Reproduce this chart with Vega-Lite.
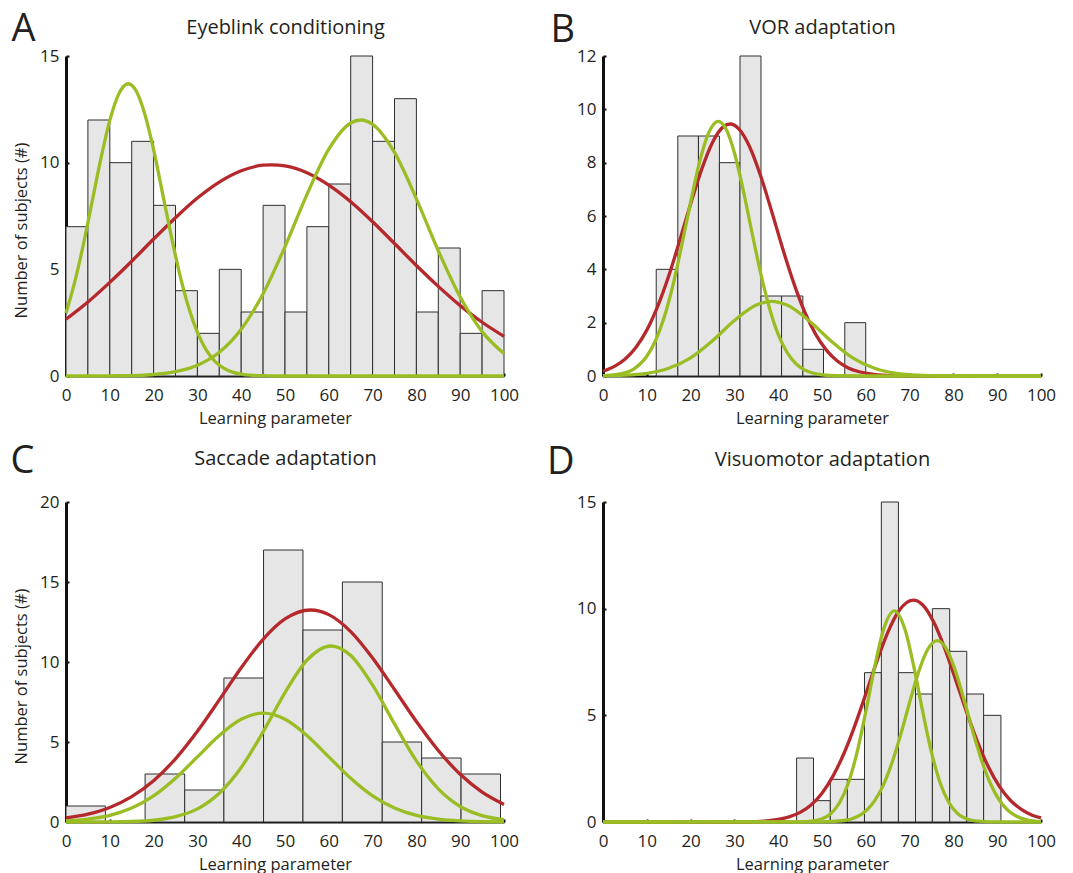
{
  "$schema": "https://vega.github.io/schema/vega-lite/v6.json",
  "background": "white",
  "padding": {"left": 10, "top": 10, "right": 5, "bottom": 5},
  "columns": 2,
  "spacing": {"row": 126, "column": 99},
  "bounds": "flush",
  "datasets": {
    "hA": [
      {"x0": 0, "x1": 5, "n": 7}, {"x0": 5, "x1": 10, "n": 12}, {"x0": 10, "x1": 15, "n": 10}, {"x0": 15, "x1": 20, "n": 11},
      {"x0": 20, "x1": 25, "n": 8}, {"x0": 25, "x1": 30, "n": 4}, {"x0": 30, "x1": 35, "n": 2}, {"x0": 35, "x1": 40, "n": 5},
      {"x0": 40, "x1": 45, "n": 3}, {"x0": 45, "x1": 50, "n": 8}, {"x0": 50, "x1": 55, "n": 3}, {"x0": 55, "x1": 60, "n": 7},
      {"x0": 60, "x1": 65, "n": 9}, {"x0": 65, "x1": 70, "n": 15}, {"x0": 70, "x1": 75, "n": 11}, {"x0": 75, "x1": 80, "n": 13},
      {"x0": 80, "x1": 85, "n": 3}, {"x0": 85, "x1": 90, "n": 6}, {"x0": 90, "x1": 95, "n": 2}, {"x0": 95, "x1": 100, "n": 4}
    ],
    "hB": [
      {"x0": 12.15, "x1": 17.08, "n": 4}, {"x0": 17.08, "x1": 21.79, "n": 9}, {"x0": 21.79, "x1": 26.58, "n": 9},
      {"x0": 26.58, "x1": 31.28, "n": 8}, {"x0": 31.28, "x1": 36.07, "n": 12}, {"x0": 36.07, "x1": 40.77, "n": 3},
      {"x0": 40.77, "x1": 45.63, "n": 3}, {"x0": 45.63, "x1": 50.34, "n": 1}, {"x0": 55.2, "x1": 59.98, "n": 2}
    ],
    "hC": [
      {"x0": 0, "x1": 9.0, "n": 1}, {"x0": 18.06, "x1": 27.1, "n": 3}, {"x0": 27.1, "x1": 36.05, "n": 2},
      {"x0": 36.05, "x1": 45.1, "n": 9}, {"x0": 45.1, "x1": 54.1, "n": 17}, {"x0": 54.1, "x1": 63.1, "n": 12},
      {"x0": 63.1, "x1": 72.2, "n": 15}, {"x0": 72.2, "x1": 81.2, "n": 5}, {"x0": 81.2, "x1": 90.2, "n": 4},
      {"x0": 90.2, "x1": 99.2, "n": 3}
    ],
    "hD": [
      {"x0": 44.2, "x1": 48.06, "n": 3}, {"x0": 48.06, "x1": 51.9, "n": 1}, {"x0": 51.9, "x1": 55.8, "n": 2},
      {"x0": 55.8, "x1": 59.7, "n": 2}, {"x0": 59.7, "x1": 63.55, "n": 7}, {"x0": 63.55, "x1": 67.45, "n": 15},
      {"x0": 67.45, "x1": 71.35, "n": 7}, {"x0": 71.35, "x1": 75.2, "n": 6}, {"x0": 75.2, "x1": 79.15, "n": 10},
      {"x0": 79.15, "x1": 83.05, "n": 8}, {"x0": 83.05, "x1": 86.9, "n": 6}, {"x0": 86.9, "x1": 90.85, "n": 5}
    ],
    "cA": [
      {"c": "r", "x": 0, "y": 2.66}, {"c": "r", "x": 5, "y": 3.47}, {"c": "r", "x": 10, "y": 4.39}, {"c": "r", "x": 15, "y": 5.38},
      {"c": "r", "x": 20, "y": 6.42}, {"c": "r", "x": 25, "y": 7.42}, {"c": "r", "x": 30, "y": 8.34}, {"c": "r", "x": 35, "y": 9.09},
      {"c": "r", "x": 40, "y": 9.62}, {"c": "r", "x": 45, "y": 9.88}, {"c": "r", "x": 47, "y": 9.9}, {"c": "r", "x": 50, "y": 9.85},
      {"c": "r", "x": 55, "y": 9.53}, {"c": "r", "x": 60, "y": 8.95}, {"c": "r", "x": 65, "y": 8.17}, {"c": "r", "x": 70, "y": 7.23},
      {"c": "r", "x": 75, "y": 6.21}, {"c": "r", "x": 80, "y": 5.18}, {"c": "r", "x": 85, "y": 4.2}, {"c": "r", "x": 90, "y": 3.3},
      {"c": "r", "x": 95, "y": 2.52}, {"c": "r", "x": 100, "y": 1.86},
      {"c": "g1", "x": 0, "y": 2.95}, {"c": "g1", "x": 2, "y": 4.41}, {"c": "g1", "x": 4, "y": 6.2}, {"c": "g1", "x": 6, "y": 8.21},
      {"c": "g1", "x": 8, "y": 10.22}, {"c": "g1", "x": 10, "y": 11.98}, {"c": "g1", "x": 12, "y": 13.2}, {"c": "g1", "x": 14.2, "y": 13.7},
      {"c": "g1", "x": 16, "y": 13.37}, {"c": "g1", "x": 18, "y": 12.27}, {"c": "g1", "x": 20, "y": 10.61}, {"c": "g1", "x": 22, "y": 8.61},
      {"c": "g1", "x": 24, "y": 6.59}, {"c": "g1", "x": 26, "y": 4.74}, {"c": "g1", "x": 28, "y": 3.21}, {"c": "g1", "x": 30, "y": 2.04},
      {"c": "g1", "x": 32, "y": 1.22}, {"c": "g1", "x": 34, "y": 0.69}, {"c": "g1", "x": 36, "y": 0.37}, {"c": "g1", "x": 38, "y": 0.18},
      {"c": "g1", "x": 40, "y": 0.09}, {"c": "g1", "x": 42, "y": 0.04}, {"c": "g1", "x": 46, "y": 0.01}, {"c": "g1", "x": 50, "y": 0},
      {"c": "g1", "x": 100, "y": 0},
      {"c": "g2", "x": 0, "y": 0}, {"c": "g2", "x": 10, "y": 0.01}, {"c": "g2", "x": 15, "y": 0.02}, {"c": "g2", "x": 20, "y": 0.07},
      {"c": "g2", "x": 25, "y": 0.2}, {"c": "g2", "x": 30, "y": 0.5}, {"c": "g2", "x": 35, "y": 1.11}, {"c": "g2", "x": 40, "y": 2.19},
      {"c": "g2", "x": 45, "y": 3.86}, {"c": "g2", "x": 50, "y": 6.06}, {"c": "g2", "x": 55, "y": 8.5}, {"c": "g2", "x": 60, "y": 10.63},
      {"c": "g2", "x": 65, "y": 11.86}, {"c": "g2", "x": 67.3, "y": 12}, {"c": "g2", "x": 70, "y": 11.8}, {"c": "g2", "x": 75, "y": 10.48},
      {"c": "g2", "x": 80, "y": 8.3}, {"c": "g2", "x": 85, "y": 5.87}, {"c": "g2", "x": 90, "y": 3.7}, {"c": "g2", "x": 95, "y": 2.08},
      {"c": "g2", "x": 100, "y": 1.05}
    ],
    "cB": [
      {"c": "r", "x": 0, "y": 0.18}, {"c": "r", "x": 2.5, "y": 0.35}, {"c": "r", "x": 5, "y": 0.63}, {"c": "r", "x": 7.5, "y": 1.07},
      {"c": "r", "x": 10, "y": 1.72}, {"c": "r", "x": 12.5, "y": 2.62}, {"c": "r", "x": 15, "y": 3.75}, {"c": "r", "x": 17.5, "y": 5.07},
      {"c": "r", "x": 20, "y": 6.45}, {"c": "r", "x": 22.5, "y": 7.74}, {"c": "r", "x": 25, "y": 8.76}, {"c": "r", "x": 27.5, "y": 9.35},
      {"c": "r", "x": 29, "y": 9.45}, {"c": "r", "x": 31, "y": 9.27}, {"c": "r", "x": 33.5, "y": 8.59}, {"c": "r", "x": 36, "y": 7.5},
      {"c": "r", "x": 38.5, "y": 6.18}, {"c": "r", "x": 41, "y": 4.79}, {"c": "r", "x": 43.5, "y": 3.51}, {"c": "r", "x": 46, "y": 2.42},
      {"c": "r", "x": 48.5, "y": 1.58}, {"c": "r", "x": 51, "y": 0.97}, {"c": "r", "x": 53.5, "y": 0.56}, {"c": "r", "x": 56, "y": 0.3},
      {"c": "r", "x": 58.5, "y": 0.16}, {"c": "r", "x": 61, "y": 0.08}, {"c": "r", "x": 65, "y": 0.02}, {"c": "r", "x": 70, "y": 0},
      {"c": "r", "x": 100, "y": 0},
      {"c": "g1", "x": 0, "y": 0.01}, {"c": "g1", "x": 4, "y": 0.08}, {"c": "g1", "x": 7, "y": 0.26}, {"c": "g1", "x": 10, "y": 0.74},
      {"c": "g1", "x": 12, "y": 1.33}, {"c": "g1", "x": 14, "y": 2.22}, {"c": "g1", "x": 16, "y": 3.43}, {"c": "g1", "x": 18, "y": 4.92},
      {"c": "g1", "x": 20, "y": 6.51}, {"c": "g1", "x": 22, "y": 7.99}, {"c": "g1", "x": 24, "y": 9.07}, {"c": "g1", "x": 26.3, "y": 9.55},
      {"c": "g1", "x": 28, "y": 9.29}, {"c": "g1", "x": 30, "y": 8.37}, {"c": "g1", "x": 32, "y": 6.98}, {"c": "g1", "x": 34, "y": 5.39},
      {"c": "g1", "x": 36, "y": 3.86}, {"c": "g1", "x": 38, "y": 2.55}, {"c": "g1", "x": 40, "y": 1.56}, {"c": "g1", "x": 42, "y": 0.89},
      {"c": "g1", "x": 44, "y": 0.47}, {"c": "g1", "x": 46, "y": 0.23}, {"c": "g1", "x": 49, "y": 0.07}, {"c": "g1", "x": 53, "y": 0.01},
      {"c": "g1", "x": 60, "y": 0}, {"c": "g1", "x": 100, "y": 0},
      {"c": "g2", "x": 0, "y": 0.01}, {"c": "g2", "x": 5, "y": 0.03}, {"c": "g2", "x": 10, "y": 0.1}, {"c": "g2", "x": 15, "y": 0.29},
      {"c": "g2", "x": 20, "y": 0.68}, {"c": "g2", "x": 25, "y": 1.32}, {"c": "g2", "x": 30, "y": 2.08}, {"c": "g2", "x": 35, "y": 2.66},
      {"c": "g2", "x": 38.5, "y": 2.8}, {"c": "g2", "x": 42, "y": 2.66}, {"c": "g2", "x": 47, "y": 2.08}, {"c": "g2", "x": 52, "y": 1.32},
      {"c": "g2", "x": 57, "y": 0.68}, {"c": "g2", "x": 62, "y": 0.29}, {"c": "g2", "x": 67, "y": 0.1}, {"c": "g2", "x": 72, "y": 0.03},
      {"c": "g2", "x": 77, "y": 0.01}, {"c": "g2", "x": 85, "y": 0}, {"c": "g2", "x": 100, "y": 0}
    ],
    "cC": [
      {"c": "r", "x": 0, "y": 0.25}, {"c": "r", "x": 5, "y": 0.49}, {"c": "r", "x": 10, "y": 0.91}, {"c": "r", "x": 15, "y": 1.59},
      {"c": "r", "x": 20, "y": 2.58}, {"c": "r", "x": 25, "y": 3.95}, {"c": "r", "x": 30, "y": 5.67}, {"c": "r", "x": 35, "y": 7.63},
      {"c": "r", "x": 40, "y": 9.64}, {"c": "r", "x": 45, "y": 11.42}, {"c": "r", "x": 50, "y": 12.69}, {"c": "r", "x": 55.8, "y": 13.25},
      {"c": "r", "x": 60, "y": 12.96}, {"c": "r", "x": 65, "y": 11.9}, {"c": "r", "x": 70, "y": 10.25}, {"c": "r", "x": 75, "y": 8.28},
      {"c": "r", "x": 80, "y": 6.28}, {"c": "r", "x": 85, "y": 4.47}, {"c": "r", "x": 90, "y": 2.98}, {"c": "r", "x": 95, "y": 1.87},
      {"c": "r", "x": 100, "y": 1.1},
      {"c": "g1", "x": 0, "y": 0.07}, {"c": "g1", "x": 5, "y": 0.18}, {"c": "g1", "x": 10, "y": 0.41}, {"c": "g1", "x": 15, "y": 0.87},
      {"c": "g1", "x": 20, "y": 1.63}, {"c": "g1", "x": 25, "y": 2.73}, {"c": "g1", "x": 30, "y": 4.07}, {"c": "g1", "x": 35, "y": 5.41},
      {"c": "g1", "x": 40, "y": 6.42}, {"c": "g1", "x": 45, "y": 6.8}, {"c": "g1", "x": 50, "y": 6.42}, {"c": "g1", "x": 55, "y": 5.41},
      {"c": "g1", "x": 60, "y": 4.07}, {"c": "g1", "x": 65, "y": 2.73}, {"c": "g1", "x": 70, "y": 1.63}, {"c": "g1", "x": 75, "y": 0.87},
      {"c": "g1", "x": 80, "y": 0.41}, {"c": "g1", "x": 85, "y": 0.18}, {"c": "g1", "x": 90, "y": 0.07}, {"c": "g1", "x": 95, "y": 0.02},
      {"c": "g1", "x": 100, "y": 0.01},
      {"c": "g2", "x": 0, "y": 0}, {"c": "g2", "x": 10, "y": 0.01}, {"c": "g2", "x": 15, "y": 0.03}, {"c": "g2", "x": 20, "y": 0.11},
      {"c": "g2", "x": 25, "y": 0.33}, {"c": "g2", "x": 30, "y": 0.82}, {"c": "g2", "x": 35, "y": 1.8}, {"c": "g2", "x": 40, "y": 3.41},
      {"c": "g2", "x": 45, "y": 5.63}, {"c": "g2", "x": 50, "y": 8.09}, {"c": "g2", "x": 55, "y": 10.11}, {"c": "g2", "x": 60.5, "y": 11},
      {"c": "g2", "x": 65, "y": 10.4}, {"c": "g2", "x": 70, "y": 8.55}, {"c": "g2", "x": 75, "y": 6.13}, {"c": "g2", "x": 80, "y": 3.82},
      {"c": "g2", "x": 85, "y": 2.07}, {"c": "g2", "x": 90, "y": 0.97}, {"c": "g2", "x": 95, "y": 0.4}, {"c": "g2", "x": 100, "y": 0.14}
    ],
    "cD": [
      {"c": "r", "x": 0, "y": 0}, {"c": "r", "x": 30, "y": 0}, {"c": "r", "x": 35, "y": 0.02}, {"c": "r", "x": 40, "y": 0.12},
      {"c": "r", "x": 42.5, "y": 0.24}, {"c": "r", "x": 45, "y": 0.45}, {"c": "r", "x": 47.5, "y": 0.8}, {"c": "r", "x": 50, "y": 1.35},
      {"c": "r", "x": 52.5, "y": 2.15}, {"c": "r", "x": 55, "y": 3.21}, {"c": "r", "x": 57.5, "y": 4.52}, {"c": "r", "x": 60, "y": 6.0},
      {"c": "r", "x": 62.5, "y": 7.52}, {"c": "r", "x": 65, "y": 8.88}, {"c": "r", "x": 67.5, "y": 9.88}, {"c": "r", "x": 70.8, "y": 10.4},
      {"c": "r", "x": 73, "y": 10.17}, {"c": "r", "x": 75.5, "y": 9.37}, {"c": "r", "x": 78, "y": 8.15}, {"c": "r", "x": 80.5, "y": 6.67},
      {"c": "r", "x": 83, "y": 5.16}, {"c": "r", "x": 85.5, "y": 3.76}, {"c": "r", "x": 88, "y": 2.58}, {"c": "r", "x": 90.5, "y": 1.67},
      {"c": "r", "x": 93, "y": 1.02}, {"c": "r", "x": 95.5, "y": 0.59}, {"c": "r", "x": 98, "y": 0.32}, {"c": "r", "x": 100, "y": 0.19},
      {"c": "g1", "x": 0, "y": 0}, {"c": "g1", "x": 45, "y": 0.01}, {"c": "g1", "x": 48, "y": 0.05}, {"c": "g1", "x": 50, "y": 0.15},
      {"c": "g1", "x": 52, "y": 0.39}, {"c": "g1", "x": 54, "y": 0.9}, {"c": "g1", "x": 56, "y": 1.82}, {"c": "g1", "x": 58, "y": 3.26},
      {"c": "g1", "x": 60, "y": 5.17}, {"c": "g1", "x": 62, "y": 7.25}, {"c": "g1", "x": 64, "y": 8.99}, {"c": "g1", "x": 66.5, "y": 9.9},
      {"c": "g1", "x": 69, "y": 8.99}, {"c": "g1", "x": 71, "y": 7.25}, {"c": "g1", "x": 73, "y": 5.17}, {"c": "g1", "x": 75, "y": 3.26},
      {"c": "g1", "x": 77, "y": 1.82}, {"c": "g1", "x": 79, "y": 0.9}, {"c": "g1", "x": 81, "y": 0.39}, {"c": "g1", "x": 83, "y": 0.15},
      {"c": "g1", "x": 85, "y": 0.05}, {"c": "g1", "x": 88, "y": 0.01}, {"c": "g1", "x": 100, "y": 0},
      {"c": "g2", "x": 0, "y": 0}, {"c": "g2", "x": 50, "y": 0.01}, {"c": "g2", "x": 55, "y": 0.07}, {"c": "g2", "x": 58, "y": 0.25},
      {"c": "g2", "x": 60, "y": 0.52}, {"c": "g2", "x": 62, "y": 0.99}, {"c": "g2", "x": 64, "y": 1.73}, {"c": "g2", "x": 66, "y": 2.79},
      {"c": "g2", "x": 68, "y": 4.12}, {"c": "g2", "x": 70, "y": 5.6}, {"c": "g2", "x": 72, "y": 7.0}, {"c": "g2", "x": 74, "y": 8.04},
      {"c": "g2", "x": 76.3, "y": 8.5}, {"c": "g2", "x": 78.5, "y": 8.08}, {"c": "g2", "x": 80.5, "y": 7.06}, {"c": "g2", "x": 82.5, "y": 5.68},
      {"c": "g2", "x": 84.5, "y": 4.19}, {"c": "g2", "x": 86.5, "y": 2.85}, {"c": "g2", "x": 88.5, "y": 1.78}, {"c": "g2", "x": 90.5, "y": 1.02},
      {"c": "g2", "x": 92.5, "y": 0.54}, {"c": "g2", "x": 94.5, "y": 0.26}, {"c": "g2", "x": 97, "y": 0.09}, {"c": "g2", "x": 100, "y": 0.02}
    ]
  },
  "concat": [
    {
      "width": 438, "height": 320,
      "resolve": {"axis": {"x": "independent", "y": "independent"}},
      "layer": [
        {
          "data": {"name": "hA"},
          "mark": {"type": "rect", "fill": "#e6e6e6", "stroke": "#2e2e2e", "strokeWidth": 1},
          "encoding": {
            "x": {"field": "x0", "type": "quantitative", "scale": {"domain": [0, 100], "nice": false, "zero": false},
                  "axis": {"orient": "bottom", "values": [0, 10, 20, 30, 40, 50, 60, 70, 80, 90, 100], "title": "Learning parameter", "titleX": 209, "titleY": 47}},
            "x2": {"field": "x1"},
            "y": {"field": "n", "type": "quantitative", "scale": {"domain": [0, 15], "nice": false},
                  "axis": {"orient": "left", "values": [0, 5, 10, 15], "title": "Number of subjects (#)", "titleX": -40, "titleY": 174}},
            "y2": {"datum": 0}
          }
        },
        {
          "data": {"name": "cA"},
          "transform": [{"filter": "datum.c == 'r'"}],
          "mark": {"type": "line", "color": "#b5292c", "strokeWidth": 3.3, "interpolate": "monotone"},
          "encoding": {
            "x": {"field": "x", "type": "quantitative", "axis": {"orient": "top", "title": "Eyeblink conditioning", "titleX": 219, "titleY": -23}},
            "y": {"field": "y", "type": "quantitative", "axis": null}
          }
        },
        {
          "data": {"name": "cA"},
          "transform": [{"filter": "datum.c != 'r'"}],
          "mark": {"type": "line", "color": "#9abd24", "strokeWidth": 3.3, "interpolate": "monotone"},
          "encoding": {
            "x": {"field": "x", "type": "quantitative", "axis": null},
            "y": {"field": "y", "type": "quantitative", "axis": {"orient": "right", "title": "A", "titleX": -493, "titleY": -16}},
            "detail": {"field": "c"}
          }
        }
      ]
    },
    {
      "width": 438, "height": 320,
      "resolve": {"axis": {"x": "independent", "y": "independent"}},
      "layer": [
        {
          "data": {"name": "hB"},
          "mark": {"type": "rect", "fill": "#e6e6e6", "stroke": "#2e2e2e", "strokeWidth": 1},
          "encoding": {
            "x": {"field": "x0", "type": "quantitative", "scale": {"domain": [0, 100], "nice": false, "zero": false},
                  "axis": {"orient": "bottom", "values": [0, 10, 20, 30, 40, 50, 60, 70, 80, 90, 100], "title": "Learning parameter", "titleX": 209, "titleY": 47}},
            "x2": {"field": "x1"},
            "y": {"field": "n", "type": "quantitative", "scale": {"domain": [0, 12], "nice": false},
                  "axis": {"orient": "left", "values": [0, 2, 4, 6, 8, 10, 12], "title": null}},
            "y2": {"datum": 0}
          }
        },
        {
          "data": {"name": "cB"},
          "transform": [{"filter": "datum.c == 'r'"}],
          "mark": {"type": "line", "color": "#b5292c", "strokeWidth": 3.3, "interpolate": "monotone"},
          "encoding": {
            "x": {"field": "x", "type": "quantitative", "axis": {"orient": "top", "title": "VOR adaptation", "titleX": 219, "titleY": -23}},
            "y": {"field": "y", "type": "quantitative", "axis": null}
          }
        },
        {
          "data": {"name": "cB"},
          "transform": [{"filter": "datum.c != 'r'"}],
          "mark": {"type": "line", "color": "#9abd24", "strokeWidth": 3.3, "interpolate": "monotone"},
          "encoding": {
            "x": {"field": "x", "type": "quantitative", "axis": null},
            "y": {"field": "y", "type": "quantitative", "axis": {"orient": "right", "title": "B", "titleX": -491, "titleY": -15}},
            "detail": {"field": "c"}
          }
        }
      ]
    },
    {
      "width": 438, "height": 320,
      "resolve": {"axis": {"x": "independent", "y": "independent"}},
      "layer": [
        {
          "data": {"name": "hC"},
          "mark": {"type": "rect", "fill": "#e6e6e6", "stroke": "#2e2e2e", "strokeWidth": 1},
          "encoding": {
            "x": {"field": "x0", "type": "quantitative", "scale": {"domain": [0, 100], "nice": false, "zero": false},
                  "axis": {"orient": "bottom", "values": [0, 10, 20, 30, 40, 50, 60, 70, 80, 90, 100], "title": "Learning parameter", "titleX": 209, "titleY": 47}},
            "x2": {"field": "x1"},
            "y": {"field": "n", "type": "quantitative", "scale": {"domain": [0, 20], "nice": false},
                  "axis": {"orient": "left", "values": [0, 5, 10, 15, 20], "title": "Number of subjects (#)", "titleX": -40, "titleY": 174}},
            "y2": {"datum": 0}
          }
        },
        {
          "data": {"name": "cC"},
          "transform": [{"filter": "datum.c == 'r'"}],
          "mark": {"type": "line", "color": "#b5292c", "strokeWidth": 3.3, "interpolate": "monotone"},
          "encoding": {
            "x": {"field": "x", "type": "quantitative", "axis": {"orient": "top", "title": "Saccade adaptation", "titleX": 219, "titleY": -38}},
            "y": {"field": "y", "type": "quantitative", "axis": null}
          }
        },
        {
          "data": {"name": "cC"},
          "transform": [{"filter": "datum.c != 'r'"}],
          "mark": {"type": "line", "color": "#9abd24", "strokeWidth": 3.3, "interpolate": "monotone"},
          "encoding": {
            "x": {"field": "x", "type": "quantitative", "axis": null},
            "y": {"field": "y", "type": "quantitative", "axis": {"orient": "right", "title": "C", "titleX": -494, "titleY": -30}},
            "detail": {"field": "c"}
          }
        }
      ]
    },
    {
      "width": 438, "height": 320,
      "resolve": {"axis": {"x": "independent", "y": "independent"}},
      "layer": [
        {
          "data": {"name": "hD"},
          "mark": {"type": "rect", "fill": "#e6e6e6", "stroke": "#2e2e2e", "strokeWidth": 1},
          "encoding": {
            "x": {"field": "x0", "type": "quantitative", "scale": {"domain": [0, 100], "nice": false, "zero": false},
                  "axis": {"orient": "bottom", "values": [0, 10, 20, 30, 40, 50, 60, 70, 80, 90, 100], "title": "Learning parameter", "titleX": 209, "titleY": 47}},
            "x2": {"field": "x1"},
            "y": {"field": "n", "type": "quantitative", "scale": {"domain": [0, 15], "nice": false},
                  "axis": {"orient": "left", "values": [0, 5, 10, 15], "title": null}},
            "y2": {"datum": 0}
          }
        },
        {
          "data": {"name": "cD"},
          "transform": [{"filter": "datum.c == 'r'"}],
          "mark": {"type": "line", "color": "#b5292c", "strokeWidth": 3.3, "interpolate": "monotone"},
          "encoding": {
            "x": {"field": "x", "type": "quantitative", "axis": {"orient": "top", "title": "Visuomotor adaptation", "titleX": 219, "titleY": -37}},
            "y": {"field": "y", "type": "quantitative", "axis": null}
          }
        },
        {
          "data": {"name": "cD"},
          "transform": [{"filter": "datum.c != 'r'"}],
          "mark": {"type": "line", "color": "#9abd24", "strokeWidth": 3.3, "interpolate": "monotone"},
          "encoding": {
            "x": {"field": "x", "type": "quantitative", "axis": null},
            "y": {"field": "y", "type": "quantitative", "axis": {"orient": "right", "title": "D", "titleX": -494.5, "titleY": -29}},
            "detail": {"field": "c"}
          }
        }
      ]
    }
  ],
  "config": {
    "view": {"stroke": null},
    "font": "Open Sans",
    "axis": {
      "grid": false,
      "labelFont": "Open Sans", "titleFont": "Open Sans",
      "labelColor": "#231f20", "titleColor": "#231f20",
      "titleFontWeight": "normal", "labelFontSize": 17, "titleFontSize": 16.5,
      "domainColor": "#111111", "tickColor": "#111111",
      "labelFlush": false, "labelOverlap": false, "labelBound": false
    },
    "axisBottom": {"domainWidth": 2, "tickSize": -3, "tickWidth": 2, "labelPadding": 14, "titleAlign": "center", "titleBaseline": "alphabetic", "titleAnchor": "start"},
    "axisLeft": {"domainWidth": 3, "tickSize": -3, "tickWidth": 2, "labelPadding": 10, "titleBaseline": "alphabetic", "titleAlign": "center", "titleAngle": 270, "zindex": 1},
    "axisTop": {"domain": false, "ticks": false, "labels": false, "titleFontSize": 20, "titleAlign": "center", "titleBaseline": "alphabetic", "titleAngle": 0, "titlePadding": 0},
    "axisRight": {"domain": false, "ticks": false, "labels": false, "titleFontSize": 38, "titleAlign": "left", "titleBaseline": "alphabetic", "titleAngle": 0, "titlePadding": 0}
  }
}
